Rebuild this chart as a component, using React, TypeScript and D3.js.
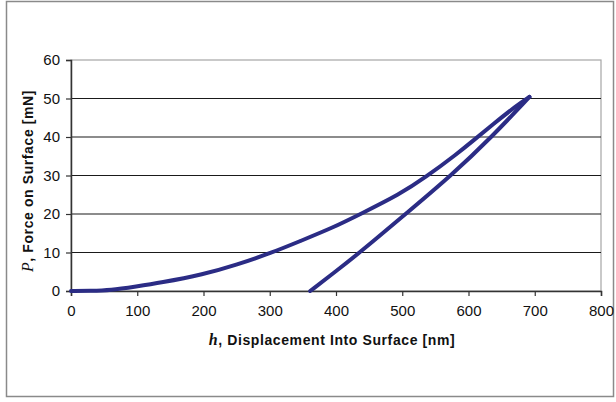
import { useEffect, useRef } from 'react';
import * as d3 from 'd3';

// loading branch (h in nm, P in mN)
const loadH = [0, 30, 59, 99, 134, 200, 250, 304, 345, 396, 437, 496, 535, 584, 606, 637, 672, 692];
const loadP = [0, 0.05, 0.2, 1.2, 2.1, 4.3, 6.8, 10, 12.9, 16.5, 20, 25.1, 29.5, 35.8, 38.9, 43.3, 48.1, 50.4];

// unloading branch
const unloadH = [361, 396, 436, 505, 574, 635, 692];
const unloadP = [0, 4.6, 10, 20, 30, 40, 50.4];

const xTicks = [0, 100, 200, 300, 400, 500, 600, 700, 800];
const yTicks = [0, 10, 20, 30, 40, 50, 60];

export default function App() {
  const svgRef = useRef<SVGSVGElement>(null);

  useEffect(() => {
    const width = 616;
    const height = 402;
    const margin = { top: 60, right: 15, bottom: 111, left: 71 };

    const svg = d3.select(svgRef.current);
    svg.selectAll('*').remove();

    // outer frame
    svg.append('rect')
      .attr('x', 6.5).attr('y', 1.5)
      .attr('width', 607).attr('height', 395)
      .attr('fill', '#fff')
      .attr('stroke', '#8a8a8a')
      .attr('stroke-width', 1.5);

    const x = d3.scaleLinear()
      .domain([0, 800])
      .range([margin.left, width - margin.right]);

    const y = d3.scaleLinear()
      .domain([0, 60])
      .range([height - margin.bottom, margin.top]);

    // plot area border (gray)
    svg.append('rect')
      .attr('x', x(0)).attr('y', y(60))
      .attr('width', x(800) - x(0)).attr('height', y(0) - y(60))
      .attr('fill', 'none')
      .attr('stroke', '#a6a6a6')
      .attr('stroke-width', 1.2);

    // gridlines
    svg.append('g')
      .selectAll('line')
      .data(yTicks.filter(d => d > 0 && d < 60))
      .join('line')
      .attr('x1', x(0)).attr('x2', x(800))
      .attr('y1', d => y(d)).attr('y2', d => y(d))
      .attr('stroke', '#1a1a1a')
      .attr('stroke-width', 1.2);

    const xAxis = svg.append('g')
      .attr('transform', `translate(0,${y(0)})`)
      .call(d3.axisBottom(x).tickValues(xTicks).tickSize(5).tickPadding(9).tickFormat(d3.format('d')));
    xAxis.select('.domain').attr('stroke', '#333').attr('stroke-width', 1.5);
    xAxis.selectAll('.tick line').attr('stroke', '#333').attr('stroke-width', 1.2);
    xAxis.selectAll('text')
      .attr('font-family', 'Liberation Sans, Arial, sans-serif')
      .attr('font-size', 15)
      .attr('fill', '#111');

    const yAxis = svg.append('g')
      .attr('transform', `translate(${x(0)},0)`)
      .call(d3.axisLeft(y).tickValues(yTicks).tickSize(5).tickPadding(6).tickFormat(d3.format('d')));
    yAxis.select('.domain').attr('stroke', '#333').attr('stroke-width', 1.5);
    yAxis.selectAll('.tick line').attr('stroke', '#333').attr('stroke-width', 1.2);
    yAxis.selectAll('text')
      .attr('font-family', 'Liberation Sans, Arial, sans-serif')
      .attr('font-size', 15)
      .attr('fill', '#111');

    const line = d3.line<[number, number]>()
      .x(d => x(d[0]))
      .y(d => y(d[1]))
      .curve(d3.curveBasis);

    const branches = [
      loadH.map((h, i) => [h, loadP[i]] as [number, number]),
      unloadH.map((h, i) => [h, unloadP[i]] as [number, number]),
    ];

    branches.forEach(data => {
      svg.append('path')
        .datum(data)
        .attr('fill', 'none')
        .attr('stroke', '#2b2c85')
        .attr('stroke-width', 4)
        .attr('stroke-linecap', 'round')
        .attr('stroke-linejoin', 'round')
        .attr('d', line);
    });

    // x axis title
    const xt = svg.append('text')
      .attr('x', (x(0) + x(800)) / 2 - 4)
      .attr('y', 345)
      .attr('text-anchor', 'middle')
      .attr('font-family', 'Liberation Sans, Arial, sans-serif')
      .attr('font-size', 14)
      .attr('font-weight', 'bold')
      .attr('letter-spacing', 0.6)
      .attr('fill', '#111');
    xt.append('tspan').attr('font-family', 'Liberation Serif, Times New Roman, serif').attr('font-style', 'italic').attr('font-size', 16).text('h');
    xt.append('tspan').text(', Displacement Into Surface [nm]');

    // y axis title
    const yt = svg.append('text')
      .attr('transform', `translate(33,181) rotate(-90)`)
      .attr('text-anchor', 'middle')
      .attr('font-family', 'Liberation Sans, Arial, sans-serif')
      .attr('font-size', 14)
      .attr('font-weight', 'bold')
      .attr('letter-spacing', 0.6)
      .attr('fill', '#111');
    yt.append('tspan').attr('font-family', 'Liberation Serif, Times New Roman, serif').attr('font-style', 'italic').attr('font-weight', 'normal').attr('font-size', 16).text('P');
    yt.append('tspan').text(', Force on Surface [mN]');
  }, []);

  return (
    <svg
      ref={svgRef}
      width={616}
      height={402}
      viewBox="0 0 616 402"
      style={{ position: 'absolute', left: 0, top: 0, background: '#fff' }}
    />
  );
}
